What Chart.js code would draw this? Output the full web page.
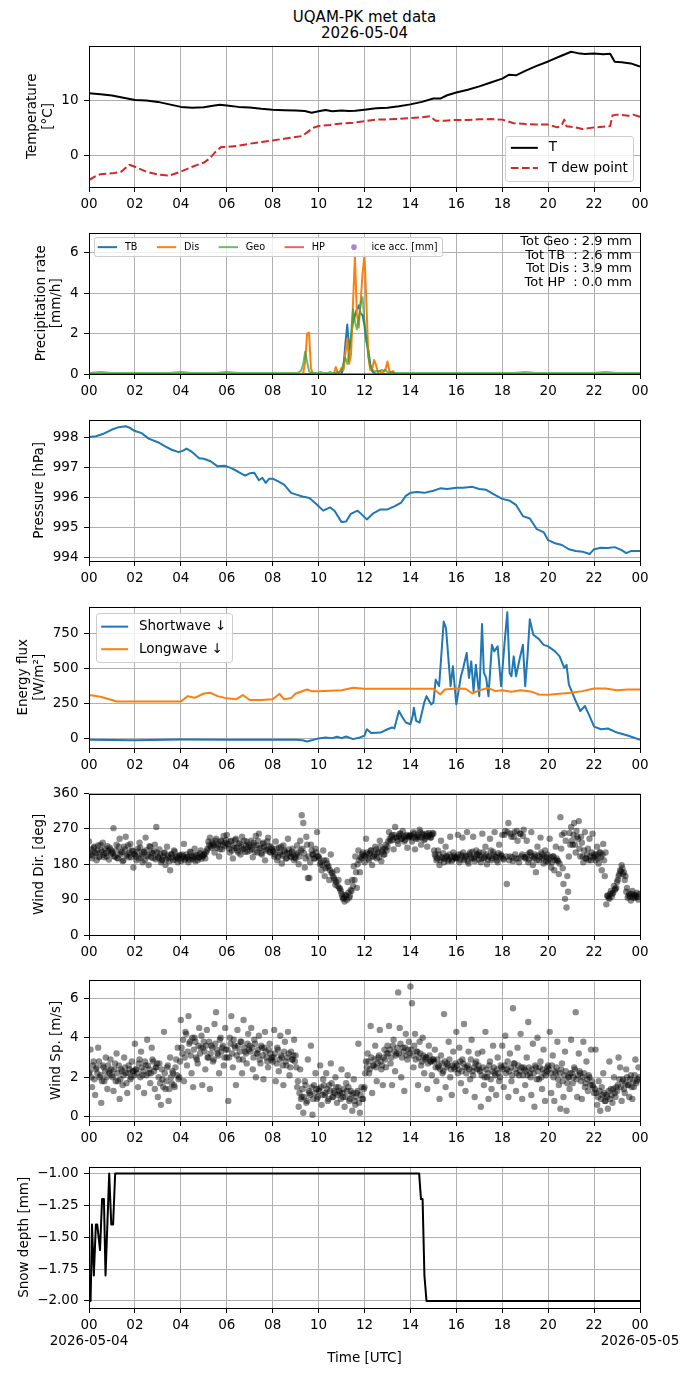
<!DOCTYPE html>
<html>
<head>
<meta charset="utf-8">
<title>UQAM-PK met data</title>
<script src="https://cdn.jsdelivr.net/npm/chart.js@4.4.1/dist/chart.umd.min.js"></script>
<style>
  html, body { margin: 0; padding: 0; background: #fff; }
  body { position: relative; width: 690px; height: 1377px; overflow: hidden; font-family: "DejaVu Sans", sans-serif; }
  #title { position: absolute; left: 0; top: 8.6px; width: 729px; text-align: center; font-size: 15px; line-height: 16.3px; color: #000; }
  .panel { position: absolute; left: 0; width: 690px; }
  canvas { display: block; }
</style>
</head>
<body>
<div id="title">UQAM-PK met data<br>2026-05-04</div>
<div class="panel" style="top:32px;height:185px"><canvas id="cTemp" width="690" height="185"></canvas></div>
<div class="panel" style="top:219px;height:185px"><canvas id="cPrecip" width="690" height="185"></canvas></div>
<div class="panel" style="top:406px;height:185px"><canvas id="cPress" width="690" height="185"></canvas></div>
<div class="panel" style="top:593px;height:185px"><canvas id="cFlux" width="690" height="185"></canvas></div>
<div class="panel" style="top:780px;height:185px"><canvas id="cDir" width="690" height="185"></canvas></div>
<div class="panel" style="top:966px;height:185px"><canvas id="cSpeed" width="690" height="185"></canvas></div>
<div class="panel" style="top:1153px;height:224px"><canvas id="cSnow" width="690" height="224"></canvas></div>
<script>
// ---- axis labels ----
const hourTicks = [0, 2, 4, 6, 8, 10, 12, 14, 16, 18, 20, 22, 24];
const hourLabels = ['00', '02', '04', '06', '08', '10', '12', '14', '16', '18', '20', '22', '00'];
const dateLabels = ['2026-05-04', '2026-05-05'];

const tempTicks = [0, 10];
const precipTicks = [0, 2, 4, 6];
const pressTicks = [994, 995, 996, 997, 998];
const fluxTicks = [0, 250, 500, 750];
const dirTicks = [0, 90, 180, 270, 360];
const speedTicks = [0, 2, 4, 6];
const snowTicks = [-2, -1.75, -1.5, -1.25, -1];

// ---- temperature (hours, degC) ----
const tHours = [0, 0.5, 1, 1.5, 2, 2.5, 3, 3.5, 4, 4.5, 5, 5.4, 5.7, 6, 6.5, 7, 7.5, 8, 8.5, 9,
  9.4, 9.7, 10, 10.3, 10.6, 11, 11.3, 11.6, 12, 12.5, 13, 13.5, 14, 14.5, 15, 15.3, 15.6, 16, 16.5, 17,
  17.5, 18, 18.3, 18.6, 19, 19.5, 20, 20.5, 21, 21.3, 21.6, 22, 22.4, 22.7, 22.9, 23.2, 23.6, 24];
const tAir = [11.25, 11.07, 10.85, 10.45, 10.05, 9.95, 9.7, 9.25, 8.8, 8.65, 8.75, 9.0, 9.2, 9.05, 8.8, 8.7, 8.45, 8.27, 8.2, 8.15,
  8.05, 7.75, 8.0, 8.25, 8.0, 8.15, 8.05, 8.1, 8.3, 8.55, 8.65, 8.9, 9.25, 9.7, 10.3, 10.3, 10.9, 11.4, 11.9, 12.5,
  13.2, 13.9, 14.6, 14.5, 15.3, 16.2, 17.0, 17.9, 18.75, 18.5, 18.35, 18.45, 18.3, 18.4, 16.95, 16.85, 16.65, 16.1];
const dHours = [0, 0.25, 0.5, 1, 1.4, 1.75, 2, 2.5, 3, 3.5, 4, 4.5, 5, 5.25, 5.5, 5.75, 6, 6.5, 7, 7.5,
  8, 8.5, 9, 9.3, 9.5, 9.75, 10, 10.5, 11, 11.5, 12, 12.5, 13, 13.5, 14, 14.5, 14.85, 15.1, 15.5, 16,
  16.5, 17, 17.5, 18, 18.5, 19, 19.5, 20, 20.4, 20.6, 20.7, 20.8, 21.2, 21.5, 22, 22.5, 22.7, 22.8, 23, 23.5, 23.7, 24];
const tDew = [-4.4, -3.8, -3.35, -3.2, -2.9, -1.65, -2.0, -2.9, -3.4, -3.6, -2.9, -2.0, -1.25, -0.55, 0.65, 1.55, 1.55, 1.8, 2.15, 2.45,
  2.75, 3.05, 3.35, 3.55, 4.2, 5.0, 5.35, 5.55, 5.8, 5.95, 6.2, 6.5, 6.55, 6.65, 6.8, 6.9, 7.1, 6.3, 6.3, 6.45,
  6.45, 6.55, 6.6, 6.5, 5.85, 5.7, 5.6, 5.6, 5.1, 5.6, 6.5, 5.3, 5.1, 4.8, 5.1, 5.25, 5.35, 7.25, 7.4, 7.2, 7.4, 7.0];

// ---- precipitation rate (minutes of day, mm/h) ----
const precipMin = [0, 30, 60, 90, 120, 150, 180, 210, 240, 270, 300, 330, 360, 390, 420, 450, 480, 510,
  540, 545, 550, 555, 560, 565, 570, 575, 580, 585, 590, 595, 600, 605, 610, 615, 620, 625, 630, 635,
  640, 645, 650, 655, 660, 665, 670, 675, 680, 685, 690, 695, 700, 705, 710, 715, 720, 725, 730, 735,
  740, 745, 750, 755, 760, 765, 770, 775, 780, 785, 790, 795, 800, 805, 810,
  840, 870, 900, 930, 960, 990, 1020, 1050, 1080, 1110, 1140, 1170, 1200, 1230, 1260, 1290, 1320, 1350, 1380, 1410, 1440];
const rateTB = [0, 0, 0, 0, 0, 0, 0, 0, 0, 0, 0, 0, 0, 0, 0, 0, 0, 0,
  0, 0, 0, 0, 0, 0, 0, 0, 0, 0, 0, 0, 0, 0, 0, 0, 0, 0, 0, 0,
  0, 0, 0, 0, 0, 0.3, 1.5, 2.45, 1.2, 1.8, 2.6, 2.9, 3.2, 3.4, 3.0, 2.9, 2.4, 1.6, 1.2, 0.5,
  0.15, 0.05, 0, 0, 0, 0, 0, 0, 0, 0, 0, 0, 0, 0, 0,
  0, 0, 0, 0, 0, 0, 0, 0, 0, 0, 0, 0, 0, 0, 0, 0, 0, 0, 0, 0, 0];
const rateDis = [0, 0, 0, 0, 0, 0, 0, 0, 0, 0, 0, 0, 0, 0, 0, 0, 0, 0,
  0, 0, 0, 0, 0.05, 0.6, 2.0, 2.05, 0.3, 0, 0, 0, 0, 0, 0, 0, 0, 0, 0, 0,
  0, 0.35, 0.05, 0.1, 0.3, 0.2, 1.0, 1.75, 0.5, 1.0, 3.5, 5.8, 3.0, 2.3, 3.6, 5.0, 5.9, 3.5, 0.9, 0.2,
  0.25, 0.7, 0.45, 0.1, 0.15, 0.05, 0.1, 0.25, 0.62, 0.15, 0.05, 0.15, 0, 0, 0,
  0, 0, 0, 0, 0, 0, 0, 0, 0, 0, 0, 0, 0, 0, 0, 0, 0, 0, 0, 0, 0];
const rateGeo = [0.05, 0.1, 0.05, 0.05, 0.05, 0.05, 0.05, 0.05, 0.1, 0.05, 0.05, 0.05, 0.1, 0.05, 0.05, 0.05, 0.05, 0.05,
  0.05, 0.05, 0.1, 0.2, 0.5, 1.1, 0.6, 0.15, 0.05, 0.05, 0.05, 0.05, 0.05, 0.1, 0.05, 0.05, 0.05, 0.05, 0.1, 0.05,
  0.05, 0.05, 0.1, 0.1, 0.15, 0.55, 0.8, 0.5, 1.0, 2.0, 3.2, 2.6, 2.2, 2.7, 3.5, 3.8, 2.6, 1.8, 0.9, 0.35,
  0.25, 0.1, 0.15, 0.1, 0.15, 0.2, 0.15, 0.2, 0.1, 0.05, 0.1, 0.05, 0.05, 0.05, 0.05,
  0.05, 0.05, 0.05, 0.05, 0.05, 0.05, 0.05, 0.05, 0.05, 0.05, 0.1, 0.05, 0.05, 0.05, 0.05, 0.05, 0.05, 0.1, 0.05, 0.05, 0.05];
const hpMin = [0, 1440];
const rateHP = [0, 0];
const iceAcc = [];
const totalNames = ['Geo', 'TB ', 'Dis', 'HP '];
const totalValues = [2.9, 2.6, 3.9, 0.0];

// ---- pressure (hours, hPa) ----
const pHours = [0, 0.3, 0.6, 1.0, 1.3, 1.6, 1.8, 2.0, 2.3, 2.6, 3.0, 3.3, 3.6, 3.9, 4.1, 4.25, 4.5, 4.8, 5.0, 5.3,
  5.6, 5.9, 6.2, 6.5, 6.8, 7.0, 7.2, 7.4, 7.55, 7.7, 7.85, 8.0, 8.2, 8.5, 8.8, 9.0, 9.3, 9.6, 9.9, 10.2,
  10.5, 10.7, 11.0, 11.2, 11.4, 11.7, 11.9, 12.1, 12.4, 12.7, 13.0, 13.3, 13.6, 13.8, 14.0, 14.3, 14.6, 15.0, 15.3, 15.6,
  16.0, 16.3, 16.7, 17.0, 17.3, 17.6, 18.0, 18.3, 18.6, 18.9, 19.2, 19.5, 19.8, 20.0, 20.3, 20.6, 20.9, 21.2, 21.5, 21.8,
  22.0, 22.3, 22.6, 22.9, 23.2, 23.4, 23.6, 24];
const pressure = [998.0, 998.03, 998.1, 998.25, 998.33, 998.36, 998.3, 998.2, 998.13, 997.95, 997.83, 997.7, 997.58, 997.5, 997.55, 997.62, 997.5, 997.3, 997.28, 997.2,
  997.03, 997.05, 996.97, 996.85, 996.72, 996.8, 996.82, 996.57, 996.65, 996.48, 996.62, 996.62, 996.55, 996.42, 996.15, 996.1, 996.03, 995.98, 995.78, 995.56,
  995.67, 995.55, 995.18, 995.2, 995.45, 995.56, 995.42, 995.27, 995.48, 995.6, 995.6, 995.7, 995.83, 996.05, 996.15, 996.18, 996.15, 996.22, 996.3, 996.28,
  996.32, 996.32, 996.35, 996.28, 996.25, 996.12, 995.95, 995.9, 995.75, 995.38, 995.3, 994.95, 994.85, 994.58, 994.48, 994.42, 994.28, 994.22, 994.2, 994.12,
  994.28, 994.33, 994.32, 994.35, 994.25, 994.15, 994.22, 994.22];

// ---- radiation (hours, W/m2) ----
const swHours = [0, 2, 4, 6, 8, 9, 9.3, 9.5, 9.7, 10, 10.3, 10.6, 10.8, 11, 11.2, 11.5, 11.8, 12, 12.1, 12.3,
  12.7, 13, 13.2, 13.3, 13.5, 13.65, 13.8, 14, 14.1, 14.15, 14.25, 14.4, 14.6, 14.7, 14.9, 15.0, 15.1, 15.25, 15.45, 15.55,
  15.75, 15.85, 16.0, 16.2, 16.3, 16.45, 16.55, 16.65, 16.75, 16.85, 17.0, 17.12, 17.2, 17.3, 17.4, 17.55, 17.65, 17.8, 17.95, 18.1,
  18.22, 18.32, 18.4, 18.5, 18.6, 18.75, 18.9, 19.0, 19.1, 19.2, 19.35, 19.6, 19.8, 20.0, 20.3, 20.5, 20.7, 20.8, 20.9, 21.2,
  21.4, 21.6, 21.8, 22, 22.3, 22.6, 23, 23.5, 24];
const shortwave = [-12, -15, -10, -12, -12, -12, -15, -24, -15, -2, 5, 0, 10, 0, 12, -7, 5, 17, 64, 36,
  40, 64, 76, 70, 195, 150, 112, 100, 160, 219, 124, 112, 255, 302, 243, 255, 421, 374, 838, 790,
  374, 517, 243, 445, 505, 612, 433, 552, 338, 528, 302, 821, 469, 433, 302, 671, 624, 660, 374, 683,
  905, 469, 445, 588, 445, 564, 671, 374, 588, 855, 743, 712, 671, 660, 624, 588, 505, 528, 386, 267,
  195, 231, 160, 83, 64, 69, 40, 17, -12];
const lwHours = [0, 0.5, 1, 1.2, 2, 3, 4, 4.3, 4.6, 5, 5.3, 5.6, 6, 6.4, 6.7, 7, 7.5, 8, 8.3, 8.5,
  8.8, 9, 9.5, 9.7, 10, 11, 11.5, 12, 13, 14, 15, 15.3, 15.5, 16, 16.4, 16.7, 17, 17.4, 17.7, 18,
  18.4, 18.8, 19.3, 19.6, 20, 20.5, 21, 21.5, 22, 22.5, 23, 23.5, 24];
const longwave = [310, 298, 274, 264, 264, 264, 264, 302, 290, 321, 326, 302, 286, 279, 310, 274, 274, 279, 319, 279,
  288, 321, 350, 338, 338, 345, 362, 355, 355, 355, 355, 314, 350, 357, 355, 321, 345, 360, 338, 345,
  333, 345, 333, 314, 312, 319, 326, 338, 357, 357, 345, 350, 350];

// ---- wind, first batch (minutes of day, deg, m/s) ----
const windMin = [0, 4, 8, 12, 16, 20, 24, 28, 32, 36, 40, 44, 48, 52, 56,
  60, 64, 68, 72, 76, 80, 84, 88, 92, 96, 100, 104, 108, 112, 116,
  120, 124, 128, 132, 136, 140, 144, 148, 152, 156, 160, 164, 168, 172, 176,
  180, 184, 188, 192, 196, 200, 204, 208, 212, 216, 220, 224, 228, 232, 236,
  240, 244, 248, 252, 256, 260, 264, 268, 272, 276, 280, 284, 288, 292, 296,
  300, 304, 308, 312, 316, 320, 324, 328, 332, 336, 340, 344, 348, 352, 356,
  360, 364, 368, 372, 376, 380, 384, 388, 392, 396, 400, 404, 408, 412, 416,
  420, 424, 428, 432, 436, 440, 444, 448, 452, 456, 460, 464, 468, 472, 476,
  480, 484, 488, 492, 496, 500, 504, 508, 512, 516, 520, 524, 528, 532, 536,
  540, 544, 548, 552, 556, 560, 564, 568, 572, 576, 580, 584, 588, 592, 596,
  600, 604, 608, 612, 616, 620, 624, 628, 632, 636, 640, 644, 648, 652, 656,
  660, 664, 668, 672, 676, 680, 684, 688, 692, 696, 700, 704, 708, 712, 716,
  720, 724, 728, 732, 736, 740, 744, 748, 752, 756, 760, 764, 768, 772, 776,
  780, 784, 788, 792, 796, 800, 804, 808, 812, 816, 820, 824, 828, 832, 836,
  840, 844, 848, 852, 856, 860, 864, 868, 872, 876, 880, 884, 888, 892, 896,
  900, 904, 908, 912, 916, 920, 924, 928, 932, 936, 940, 944, 948, 952, 956,
  960, 964, 968, 972, 976, 980, 984, 988, 992, 996, 1000, 1004, 1008, 1012, 1016,
  1020, 1024, 1028, 1032, 1036, 1040, 1044, 1048, 1052, 1056, 1060, 1064, 1068, 1072, 1076,
  1080, 1084, 1088, 1092, 1096, 1100, 1104, 1108, 1112, 1116, 1120, 1124, 1128, 1132, 1136,
  1140, 1144, 1148, 1152, 1156, 1160, 1164, 1168, 1172, 1176, 1180, 1184, 1188, 1192, 1196,
  1200, 1204, 1208, 1212, 1216, 1220, 1224, 1228, 1232, 1236, 1240, 1244, 1248, 1252, 1256,
  1260, 1264, 1268, 1272, 1276, 1280, 1284, 1288, 1292, 1296, 1300, 1304, 1308, 1312, 1316,
  1320, 1324, 1328, 1332, 1336, 1340, 1344, 1348, 1352, 1356, 1360, 1364, 1368, 1372, 1376,
  1380, 1384, 1388, 1392, 1396, 1400, 1404, 1408, 1412, 1416, 1420, 1424, 1428, 1432, 1436];
const windDir = [238, 205, 195, 222, 210, 190, 228, 200, 215, 235, 198, 208, 226, 192, 218,
  212, 272, 200, 230, 195, 245, 210, 188, 225, 250, 205, 198, 232, 215, 172,
  205, 190, 220, 235, 198, 185, 212, 248, 200, 178, 225, 210, 196, 230, 275,
  200, 218, 185, 192, 208, 178, 225, 196, 165, 205, 190, 212, 198, 185, 202,
  188, 205, 232, 195, 198, 185, 212, 200, 192, 220, 205, 190, 198, 215, 202,
  205, 195, 215, 238, 248, 222, 232, 210, 245, 228, 200, 240, 218, 252, 235,
  255, 228, 210, 240, 195, 222, 245, 215, 232, 205, 250, 220, 212, 238, 225,
  215, 240, 198, 228, 252, 210, 258, 222, 205, 235, 190, 218, 248, 212, 225,
  215, 200, 238, 190, 222, 205, 182, 228, 212, 195, 245, 208, 198, 220, 190,
  195, 228, 180, 240, 305, 285, 172, 250, 145, 145, 230, 205, 195, 220, 262,
  200, 180, 165, 215, 150, 190, 172, 140, 205, 160, 145, 128, 165, 140, 118,
  105, 92, 85, 100, 135, 95, 115, 140, 175, 200, 120, 215, 160, 195, 210,
  185, 245, 205, 190, 215, 178, 200, 225, 195, 210, 240, 188, 218, 205, 230,
  225, 262, 240, 255, 218, 275, 248, 232, 258, 245, 265, 238, 252, 222, 250,
  255, 238, 262, 218, 250, 245, 268, 230, 258, 242, 252, 225, 260, 248, 255,
  258, 205, 190, 215, 178, 240, 195, 185, 225, 200, 192, 250, 188, 210, 198,
  195, 255, 185, 205, 248, 190, 200, 262, 182, 210, 195, 250, 188, 215, 205,
  210, 185, 258, 195, 225, 180, 200, 245, 190, 212, 262, 198, 185, 230, 205,
  255, 192, 265, 130, 285, 200, 250, 188, 262, 195, 240, 185, 258, 205, 268,
  195, 240, 185, 210, 262, 178, 200, 160, 225, 190, 248, 205, 182, 215, 198,
  185, 245, 172, 200, 165, 225, 190, 155, 300, 255, 130, 92, 70, 110, 260,
  275, 230, 285, 210, 250, 290, 200, 235, 185, 262, 195, 220, 245, 190, 258,
  205, 190, 225, 182, 210, 165, 232, 150, 78, 100, 92, 112, 105, 125, 118,
  135, 150, 165, 178, 155, 140, 110, 95, 105, 88, 112, 100, 95, 108, 90];
const windSpeed = [2.2, 3.4, 1.5, 2.8, 1.1, 2.5, 3.5, 2.0, 0.7, 2.6, 1.8, 3.0, 1.4, 2.3, 2.9,
  2.1, 1.3, 2.7, 3.2, 1.8, 0.9, 2.4, 1.6, 3.0, 2.2, 1.2, 2.6, 1.9, 2.8, 2.3,
  3.7, 2.4, 1.5, 2.9, 3.3, 2.1, 1.2, 2.6, 3.9, 2.2, 1.7, 3.5, 2.8, 1.4, 2.5,
  1.0, 2.7, 0.6, 1.9, 4.3, 1.4, 2.5, 0.8, 3.0, 1.7, 2.2, 1.5, 2.9, 3.5, 2.0,
  4.9, 3.2, 1.8, 4.3, 2.6, 5.1, 3.8, 2.2, 1.5, 4.0, 3.0, 2.7, 4.5, 3.5, 1.6,
  3.8, 2.4, 4.4, 3.0, 1.4, 3.6, 2.8, 4.7, 5.3, 3.2, 2.2, 4.0, 3.5, 2.6, 4.5,
  3.0, 0.8, 4.0, 5.1, 2.5, 3.6, 1.6, 4.4, 2.9, 3.8, 2.2, 4.9, 3.3, 2.7, 4.2,
  3.6, 4.5, 2.4, 3.9, 2.0, 3.2, 4.1, 2.7, 3.5, 1.9, 4.3, 3.0, 2.5, 3.7, 2.9,
  2.8, 4.4, 1.8, 3.5, 2.3, 4.1, 3.0, 1.6, 3.8, 2.6, 4.3, 2.1, 3.3, 2.9, 3.9,
  3.1, 1.5, 0.5, 2.4, 1.0, 0.2, 1.8, 0.7, 2.9, 1.2, 3.6, 0.1, 1.6, 2.2, 0.9,
  1.4, 2.6, 0.6, 1.9, 1.1, 2.2, 0.8, 1.6, 2.7, 1.0, 1.3, 2.0, 0.7, 1.5, 1.2,
  2.4, 1.0, 0.5, 1.7, 2.1, 0.8, 1.3, 0.3, 1.9, 0.6, 1.2, 3.7, 0.2, 1.5, 0.9,
  1.5, 2.8, 3.2, 2.2, 4.6, 1.2, 2.6, 3.6, 1.8, 3.0, 4.4, 2.4, 1.6, 3.4, 2.5,
  3.6, 4.6, 2.7, 1.6, 3.9, 2.3, 3.2, 6.3, 4.5, 2.0, 3.5, 1.3, 4.2, 2.9, 3.8,
  6.6, 5.75, 2.5, 4.2, 3.3, 1.6, 3.8, 2.6, 4.0, 2.2, 3.0, 1.4, 3.6, 2.8, 2.1,
  2.9, 3.4, 1.8, 2.5, 0.9, 3.1, 2.2, 5.2, 1.5, 2.7, 3.8, 2.0, 1.1, 3.3, 2.4,
  4.3, 2.2, 3.5, 1.7, 2.9, 4.7, 1.3, 2.5, 3.3, 1.9, 3.9, 2.1, 1.0, 2.8, 3.2,
  2.4, 0.5, 3.3, 1.6, 4.3, 2.0, 0.9, 2.8, 1.4, 3.6, 2.2, 1.1, 3.0, 1.8, 2.6,
  3.6, 1.5, 4.1, 2.4, 1.0, 3.2, 1.8, 5.5, 2.7, 1.3, 3.5, 2.1, 4.2, 0.9, 2.5,
  1.6, 3.0, 4.8, 2.2, 1.1, 3.7, 0.5, 2.5, 4.0, 1.9, 2.8, 1.4, 3.4, 0.8, 2.3,
  2.6, 4.3, 1.2, 3.1, 0.8, 2.2, 3.8, 1.6, 0.4, 2.7, 1.0, 3.3, 0.3, 2.0, 1.4,
  3.9, 1.7, 2.5, 5.3, 1.0, 3.2, 2.2, 0.9, 3.8, 1.5, 2.8, 1.3, 2.0, 3.4, 1.6,
  1.2, 3.4, 0.6, 1.8, 0.3, 1.5, 2.2, 0.8, 1.1, 0.4, 2.8, 1.4, 0.7, 2.0, 1.0,
  1.3, 3.0, 2.5, 0.8, 1.9, 1.2, 2.4, 1.6, 1.0, 2.1, 0.9, 1.5, 2.9, 1.8, 2.5];

// ---- wind, second batch (interleaved readings) ----
const windMinB = [2, 6, 10, 14, 18, 22, 26, 30, 34, 38, 42, 46, 50, 54, 58,
  62, 66, 70, 74, 78, 82, 86, 90, 94, 98, 102, 106, 110, 114, 118,
  122, 126, 130, 134, 138, 142, 146, 150, 154, 158, 162, 166, 170, 174, 178,
  182, 186, 190, 194, 198, 202, 206, 210, 214, 218, 222, 226, 230, 234, 238,
  242, 246, 250, 254, 258, 262, 266, 270, 274, 278, 282, 286, 290, 294, 298,
  302, 306, 310, 314, 318, 322, 326, 330, 334, 338, 342, 346, 350, 354, 358,
  362, 366, 370, 374, 378, 382, 386, 390, 394, 398, 402, 406, 410, 414, 418,
  422, 426, 430, 434, 438, 442, 446, 450, 454, 458, 462, 466, 470, 474, 478,
  482, 486, 490, 494, 498, 502, 506, 510, 514, 518, 522, 526, 530, 534, 538,
  542, 546, 550, 554, 558, 562, 566, 570, 574, 578, 582, 586, 590, 594, 598,
  602, 606, 610, 614, 618, 622, 626, 630, 634, 638, 642, 646, 650, 654, 658,
  662, 666, 670, 674, 678, 682, 686, 690, 694, 698, 702, 706, 710, 714, 718,
  722, 726, 730, 734, 738, 742, 746, 750, 754, 758, 762, 766, 770, 774, 778,
  782, 786, 790, 794, 798, 802, 806, 810, 814, 818, 822, 826, 830, 834, 838,
  842, 846, 850, 854, 858, 862, 866, 870, 874, 878, 882, 886, 890, 894, 898,
  902, 906, 910, 914, 918, 922, 926, 930, 934, 938, 942, 946, 950, 954, 958,
  962, 966, 970, 974, 978, 982, 986, 990, 994, 998, 1002, 1006, 1010, 1014, 1018,
  1022, 1026, 1030, 1034, 1038, 1042, 1046, 1050, 1054, 1058, 1062, 1066, 1070, 1074, 1078,
  1082, 1086, 1090, 1094, 1098, 1102, 1106, 1110, 1114, 1118, 1122, 1126, 1130, 1134, 1138,
  1142, 1146, 1150, 1154, 1158, 1162, 1166, 1170, 1174, 1178, 1182, 1186, 1190, 1194, 1198,
  1202, 1206, 1210, 1214, 1218, 1222, 1226, 1230, 1234, 1238, 1242, 1246, 1250, 1254, 1258,
  1262, 1266, 1270, 1274, 1278, 1282, 1286, 1290, 1294, 1298, 1302, 1306, 1310, 1314, 1318,
  1322, 1326, 1330, 1334, 1338, 1342, 1346, 1350, 1354, 1358, 1362, 1366, 1370, 1374, 1378,
  1382, 1386, 1390, 1394, 1398, 1402, 1406, 1410, 1414, 1418, 1422, 1426, 1430, 1434, 1438];
const windDirB = [210, 218, 202, 225, 208, 215, 198, 230, 212, 205, 220, 200, 214, 222, 207,
  208, 200, 215, 196, 225, 205, 212, 190, 218, 202, 228, 210, 198, 214, 206,
  200, 212, 195, 222, 205, 210, 190, 216, 203, 226, 198, 208, 214, 193, 210,
  196, 205, 190, 200, 210, 193, 202, 188, 206, 198, 215, 192, 200, 195, 204,
  195, 200, 190, 205, 198, 192, 210, 196, 200, 188, 203, 197, 208, 194, 200,
  205, 210, 220, 230, 226, 235, 228, 240, 222, 232, 218, 238, 230, 226, 242,
  232, 220, 238, 215, 228, 242, 222, 210, 235, 225, 218, 240, 228, 212, 230,
  225, 218, 235, 212, 228, 240, 220, 208, 232, 224, 215, 238, 226, 210, 220,
  212, 205, 220, 198, 210, 225, 202, 215, 195, 208, 218, 200, 212, 205, 198,
  205, 210, 200, 215, 220, 208, 195, 230, 200, 185, 215, 205, 195, 210, 200,
  195, 185, 178, 190, 170, 182, 175, 165, 158, 150, 140, 135, 125, 120, 112,
  98, 95, 102, 90, 108, 100, 112, 125, 140, 160, 180, 190, 198, 205, 202,
  200, 210, 195, 208, 215, 200, 205, 218, 210, 198, 225, 212, 205, 220, 215,
  238, 245, 250, 242, 255, 248, 240, 252, 258, 245, 250, 242, 255, 248, 252,
  252, 248, 258, 245, 255, 250, 262, 248, 255, 245, 258, 250, 255, 248, 260,
  215, 200, 195, 205, 190, 198, 208, 195, 200, 188, 205, 198, 192, 202, 196,
  198, 205, 192, 200, 210, 195, 202, 188, 205, 198, 212, 195, 200, 205, 192,
  202, 195, 210, 198, 205, 192, 200, 215, 195, 205, 200, 190, 208, 198, 202,
  195, 255, 200, 262, 190, 258, 198, 250, 205, 265, 195, 258, 200, 252, 198,
  198, 205, 192, 210, 200, 195, 205, 190, 202, 198, 210, 195, 200, 188, 205,
  192, 198, 185, 200, 190, 195, 188, 182, 220, 170, 260, 240, 150, 200, 230,
  240, 255, 230, 265, 245, 220, 250, 200, 215, 195, 205, 190, 200, 210, 198,
  200, 205, 195, 210, 198, 205, 190, 210, 100, 95, 105, 98, 108, 115, 120,
  140, 155, 162, 170, 160, 150, 120, 100, 98, 105, 95, 102, 100, 97, 104];
const windSpeedB = [2.3, 2.0, 2.6, 1.9, 2.4, 2.2, 2.8, 2.1, 1.8, 2.5, 2.3, 2.0, 2.6, 2.2, 2.4,
  2.0, 2.4, 1.8, 2.2, 2.6, 1.9, 2.3, 2.1, 2.5, 1.7, 2.2, 2.4, 2.0, 2.3, 2.1,
  2.4, 2.2, 2.7, 2.0, 2.5, 2.3, 2.8, 2.1, 2.6, 2.4, 2.2, 2.9, 2.3, 2.5, 2.7,
  2.0, 1.7, 2.4, 1.5, 2.2, 1.8, 2.6, 1.4, 2.0, 2.3, 1.6, 2.5, 2.1, 1.9, 2.8,
  3.5, 3.9, 3.0, 4.2, 3.3, 3.7, 3.1, 4.0, 3.4, 3.8, 2.9, 3.6, 3.2, 4.1, 3.5,
  3.3, 3.6, 3.0, 3.8, 3.2, 3.5, 2.9, 3.7, 3.4, 3.1, 3.9, 3.3, 3.6, 3.0, 3.4,
  3.4, 3.0, 3.7, 3.2, 3.9, 3.5, 3.1, 3.6, 3.3, 3.8, 2.9, 3.5, 3.2, 3.7, 3.4,
  3.3, 3.5, 3.0, 3.7, 3.2, 3.4, 2.9, 3.6, 3.1, 3.5, 3.3, 2.8, 3.4, 3.2, 3.0,
  3.0, 3.2, 2.7, 3.4, 2.9, 3.1, 2.6, 3.3, 2.8, 3.0, 3.2, 2.5, 2.9, 3.1, 2.8,
  2.5, 1.8, 1.2, 0.9, 1.4, 1.0, 1.6, 0.8, 1.3, 1.1, 1.5, 0.9, 1.2, 1.4, 1.0,
  1.3, 1.5, 1.1, 1.6, 1.2, 1.4, 0.9, 1.3, 1.7, 1.0, 1.2, 1.5, 1.1, 1.3, 0.9,
  1.2, 1.4, 1.0, 1.3, 1.5, 0.9, 1.1, 1.2, 0.8, 1.0, 1.3, 0.7, 1.1, 0.9, 1.4,
  2.2, 2.5, 2.8, 2.4, 3.0, 2.6, 2.9, 2.5, 2.7, 3.1, 2.8, 2.6, 3.0, 2.9, 3.2,
  3.2, 3.4, 3.0, 3.6, 3.3, 3.1, 3.5, 3.2, 3.7, 3.0, 3.3, 3.5, 3.1, 3.4, 3.2,
  3.4, 3.1, 3.6, 2.9, 3.3, 3.0, 3.2, 2.8, 3.1, 2.9, 3.0, 2.7, 3.1, 2.8, 2.9,
  2.8, 2.5, 2.9, 2.6, 2.4, 2.7, 2.3, 2.8, 2.5, 2.6, 2.9, 2.4, 2.6, 2.5, 2.7,
  2.6, 2.4, 2.8, 2.3, 2.7, 2.5, 2.2, 2.6, 2.4, 2.9, 2.3, 2.5, 2.7, 2.4, 2.6,
  2.3, 2.1, 2.5, 2.0, 2.4, 2.2, 2.6, 1.9, 2.3, 2.5, 2.1, 2.4, 2.2, 2.0, 2.5,
  2.4, 2.6, 2.2, 2.8, 2.3, 2.5, 2.1, 2.7, 2.4, 2.2, 2.6, 2.3, 2.5, 2.1, 2.4,
  2.3, 2.1, 2.5, 2.0, 2.4, 2.2, 2.6, 1.9, 2.3, 2.5, 2.0, 2.4, 2.2, 2.1, 2.5,
  2.4, 2.2, 2.6, 2.0, 2.3, 2.5, 1.9, 2.2, 2.4, 1.8, 2.1, 2.3, 1.7, 2.0, 2.2,
  2.2, 2.0, 2.4, 1.9, 2.1, 2.3, 1.8, 2.0, 2.2, 1.7, 1.9, 2.1, 1.6, 1.8, 1.5,
  1.4, 1.2, 1.0, 1.3, 0.9, 1.1, 1.2, 0.8, 1.0, 1.3, 0.9, 1.1, 1.4, 1.2, 1.5,
  1.6, 1.9, 1.5, 1.8, 1.4, 1.7, 2.0, 1.6, 1.9, 1.5, 1.8, 2.1, 1.7, 1.9, 2.0];

// ---- snow depth (hours, mm) ----
const snowHours = [0, 0.07, 0.13, 0.21, 0.3, 0.36, 0.48, 0.57, 0.65, 0.72, 0.88, 0.97, 1.05, 1.14, 14.38, 14.46, 14.53, 14.61, 14.7, 24];
const snowDepth = [-2.0, -2.0, -1.4, -1.8, -1.4, -1.4, -1.6, -1.2, -1.2, -1.8, -1.0, -1.4, -1.4, -1.0, -1.0, -1.2, -1.2, -1.8, -2.0, -2.0];

// ---------------------------------------------------------------
const FS = 13.5;
const FONT = "'DejaVu Sans', sans-serif";
Chart.defaults.font.family = FONT;
Chart.defaults.font.size = FS;
Chart.defaults.color = '#000';

function toPoints(xs, ys) { return xs.map((x, i) => ({ x: x, y: ys[i] })); }
function toHours(mins) { return mins.map(m => m / 60); }
function minusFmt(v) { return String(v).replace('-', '\u2212'); }

function lineSet(label, xs, ys, color, extra) {
  return Object.assign({
    label: label, data: toPoints(xs, ys), borderColor: color, backgroundColor: color,
    borderWidth: 2, pointRadius: 0, fill: false, tension: 0, clip: 0,
    borderJoinStyle: 'round'
  }, extra || {});
}
function dotSet(xs, ys) {
  return {
    data: toPoints(xs, ys), pointRadius: 3.2, pointBorderWidth: 0,
    pointBackgroundColor: 'rgba(0,0,0,0.45)', clip: 0
  };
}

const grid = { color: '#b0b0b0', lineWidth: 1, drawTicks: true, tickLength: 5, tickColor: '#000', tickWidth: 1 };

function xAxis(axisH, bottom) {
  return {
    type: 'linear', min: 0, max: 24,
    afterBuildTicks: s => { s.ticks = hourTicks.map(v => ({ value: v })); },
    afterFit: s => { s.height = axisH; },
    grid: grid, border: { display: false },
    ticks: {
      autoSkip: false, maxRotation: 0, padding: 4.5, color: '#000',
      callback: (v, i) => {
        if (bottom && i === 0) return [hourLabels[i], dateLabels[0]];
        if (bottom && i === hourTicks.length - 1) return [hourLabels[i], dateLabels[1]];
        return hourLabels[i];
      }
    },
    title: bottom ? { display: true, text: 'Time [UTC]', color: '#000', padding: { top: 0, bottom: 10.9 } } : { display: false }
  };
}
function yAxis(min, max, ticks, fmt) {
  return {
    type: 'linear', min: min, max: max,
    afterBuildTicks: s => { s.ticks = ticks.map(v => ({ value: v })); },
    afterFit: s => { s.width = 89; },
    grid: grid, border: { display: false },
    ticks: { padding: 5.5, color: '#000', callback: fmt || minusFmt }
  };
}

// per panel extras: y label, legend, annotation text
const extras = {};

function drawYLabel(chart, lines) {
  const ctx = chart.ctx, a = chart.chartArea, ys = chart.scales.y;
  ctx.save();
  ctx.font = FS + 'px ' + FONT;
  let maxW = 0;
  ys.ticks.forEach(t => { maxW = Math.max(maxW, ctx.measureText(String(t.label)).width); });
  const lh = 15.8;
  const xLast = a.left - 5 - 5.5 - maxW - 5.6 - 0.55 * FS;
  const yMid = (a.top + a.bottom) / 2;
  ctx.fillStyle = '#000';
  ctx.textAlign = 'center';
  ctx.textBaseline = 'middle';
  lines.forEach((txt, i) => {
    const x = xLast - (lines.length - 1 - i) * lh;
    ctx.save();
    ctx.translate(x, yMid);
    ctx.rotate(-Math.PI / 2);
    ctx.fillText(txt, 0, 0);
    ctx.restore();
  });
  ctx.restore();
}

function drawLegend(chart, lg) {
  const ctx = chart.ctx, a = chart.chartArea;
  const fs = lg.fontSize;
  const bp = 0.4 * fs, hl = 2 * fs, htp = 0.8 * fs, ls = 0.5 * fs, cs = 2 * fs, bap = 0.5 * fs, rh = lg.rowH * fs;
  ctx.save();
  ctx.font = fs + 'px ' + FONT;
  const items = chart.data.datasets.filter(d => d.label).map(d => ({
    label: d.label, color: d.legendColor || d.borderColor, dash: d.borderDash || [],
    lw: d.borderWidth || 2, marker: d.type === 'scatter', w: ctx.measureText(d.label).width
  }));
  const ncol = lg.ncol || 1;
  const nrow = Math.ceil(items.length / ncol);
  const colW = [];
  items.forEach((it, i) => {
    const c = Math.floor(i / nrow);
    colW[c] = Math.max(colW[c] || 0, hl + htp + it.w);
  });
  const W = 2 * bp + colW.reduce((s, v) => s + v, 0) + (colW.length - 1) * cs;
  const H = 2 * bp + nrow * rh + (nrow - 1) * ls;
  let x0, y0;
  if (lg.loc === 'lower right') { x0 = a.right - bap - W; y0 = a.bottom - bap - H; }
  else { x0 = a.left + bap; y0 = a.top + bap; }
  ctx.beginPath();
  ctx.roundRect(Math.round(x0) + 0.5, Math.round(y0) + 0.5, Math.round(W), Math.round(H), 0.2 * fs);
  ctx.fillStyle = 'rgba(255,255,255,0.8)';
  ctx.fill();
  ctx.strokeStyle = '#cccccc';
  ctx.lineWidth = 1;
  ctx.stroke();
  items.forEach((it, i) => {
    const c = Math.floor(i / nrow), r = i % nrow;
    let cx = x0 + bp;
    for (let k = 0; k < c; k++) cx += colW[k] + cs;
    const cy = y0 + bp + r * (rh + ls) + rh / 2;
    if (it.marker) {
      ctx.beginPath();
      ctx.arc(cx + hl / 2, cy, lg.markerR || 2.8, 0, Math.PI * 2);
      ctx.fillStyle = it.color;
      ctx.fill();
    } else {
      ctx.beginPath();
      ctx.setLineDash(it.dash);
      ctx.moveTo(cx, cy);
      ctx.lineTo(cx + hl, cy);
      ctx.strokeStyle = it.color;
      ctx.lineWidth = it.lw;
      ctx.stroke();
      ctx.setLineDash([]);
    }
    ctx.fillStyle = '#000';
    ctx.textAlign = 'left';
    ctx.textBaseline = 'middle';
    ctx.fillText(it.label, cx + hl + htp, cy);
  });
  ctx.restore();
}

function drawNote(chart, note) {
  const ctx = chart.ctx, a = chart.chartArea;
  ctx.save();
  ctx.font = note.fontSize + 'px ' + FONT;
  ctx.fillStyle = '#000';
  ctx.textAlign = 'right';
  ctx.textBaseline = 'middle';
  note.lines.forEach((t, i) => ctx.fillText(t, note.x, a.top + note.dy + i * note.lh));
  ctx.restore();
}

Chart.register({
  id: 'mplFrame',
  afterDatasetsDraw(chart) {
    const a = chart.chartArea, ctx = chart.ctx;
    ctx.save();
    ctx.strokeStyle = '#000';
    ctx.lineWidth = 1;
    ctx.strokeRect(Math.round(a.left) + 0.5, Math.round(a.top) + 0.5, Math.round(a.right - a.left), Math.round(a.bottom - a.top));
    ctx.restore();
  },
  afterDraw(chart) {
    const ex = extras[chart.canvas.id];
    if (!ex) return;
    drawYLabel(chart, ex.ylabel);
    if (ex.legend) drawLegend(chart, ex.legend);
    if (ex.note) drawNote(chart, ex.note);
  }
});

function makeChart(id, type, datasets, yScale, axisH, bottom) {
  return new Chart(document.getElementById(id), {
    type: type,
    data: { datasets: datasets },
    options: {
      responsive: false, animation: false, events: [],
      layout: { padding: { left: 0, right: 50, top: 12, bottom: 0 } },
      plugins: { legend: { display: false }, tooltip: { enabled: false } },
      scales: { x: xAxis(axisH, bottom), y: yScale }
    }
  });
}

// 1. temperature
extras.cTemp = { ylabel: ['Temperature', '[\u00b0C]'], legend: { loc: 'lower right', fontSize: FS, rowH: 1.0 } };
makeChart('cTemp', 'line', [
  lineSet('T', tHours, tAir, '#000000', { order: 2 }),
  lineSet('T dew point', dHours, tDew, '#d62728', { order: 1, borderDash: [7.7, 3.3] })
], yAxis(-5.66, 19.86, tempTicks), 30, false);

// 2. precipitation
extras.cPrecip = {
  ylabel: ['Precipitation rate', '[mm/h]'],
  legend: { loc: 'upper left', fontSize: 9.7, rowH: 1.2, ncol: 5, markerR: 2.8 },
  note: { x: 632, dy: 9, lh: 13.7, fontSize: 13,
    lines: totalNames.map((n, i) => 'Tot ' + n + ' : ' + totalValues[i].toFixed(1) + ' mm') }
};
const precipHours = toHours(precipMin);
makeChart('cPrecip', 'line', [
  lineSet('TB', precipHours, rateTB, '#1f77b4', { order: 4 }),
  lineSet('Dis', precipHours, rateDis, '#ff7f0e', { order: 3 }),
  lineSet('Geo', precipHours, rateGeo, 'rgba(44,160,44,0.7)', { order: 2 }),
  lineSet('HP', toHours(hpMin), rateHP, 'rgba(214,39,40,0.7)', { order: 1 }),
  { type: 'scatter', label: 'ice acc. [mm]', data: iceAcc, borderColor: 'rgba(148,103,189,0.8)', backgroundColor: 'rgba(148,103,189,0.8)', order: 0 }
], yAxis(0, 7, precipTicks), 30, false);

// 3. pressure
extras.cPress = { ylabel: ['Pressure [hPa]'] };
makeChart('cPress', 'line', [
  lineSet('', pHours, pressure, '#1f77b4')
], yAxis(993.89, 998.58, pressTicks), 30, false);

// 4. energy flux
extras.cFlux = { ylabel: ['Energy flux', '[W/m\u00b2]'], legend: { loc: 'upper left', fontSize: FS, rowH: 1.17 } };
makeChart('cFlux', 'line', [
  lineSet('Shortwave \u2193', swHours, shortwave, '#1f77b4', { order: 2 }),
  lineSet('Longwave \u2193', lwHours, longwave, '#ff7f0e', { order: 1 })
], yAxis(-71, 946, fluxTicks), 30, false);

// 5. wind direction
const windHours = toHours(windMin);
const windHoursB = toHours(windMinB);
extras.cDir = { ylabel: ['Wind Dir. [deg]'] };
makeChart('cDir', 'scatter', [
  dotSet(windHours, windDir),
  dotSet(windHoursB, windDirB)
], yAxis(0, 360, dirTicks), 30, false);

// 6. wind speed
extras.cSpeed = { ylabel: ['Wind Sp. [m/s]'] };
makeChart('cSpeed', 'scatter', [
  dotSet(windHours, windSpeed),
  dotSet(windHoursB, windSpeedB)
], yAxis(-0.22, 6.95, speedTicks), 30, false);

// 7. snow depth
extras.cSnow = { ylabel: ['Snow depth [mm]'] };
makeChart('cSnow', 'line', [
  lineSet('', snowHours, snowDepth, '#000000')
], yAxis(-2.055, -0.945, snowTicks, v => v.toFixed(2).replace('-', '\u2212')), 69, true);
</script>
</body>
</html>
